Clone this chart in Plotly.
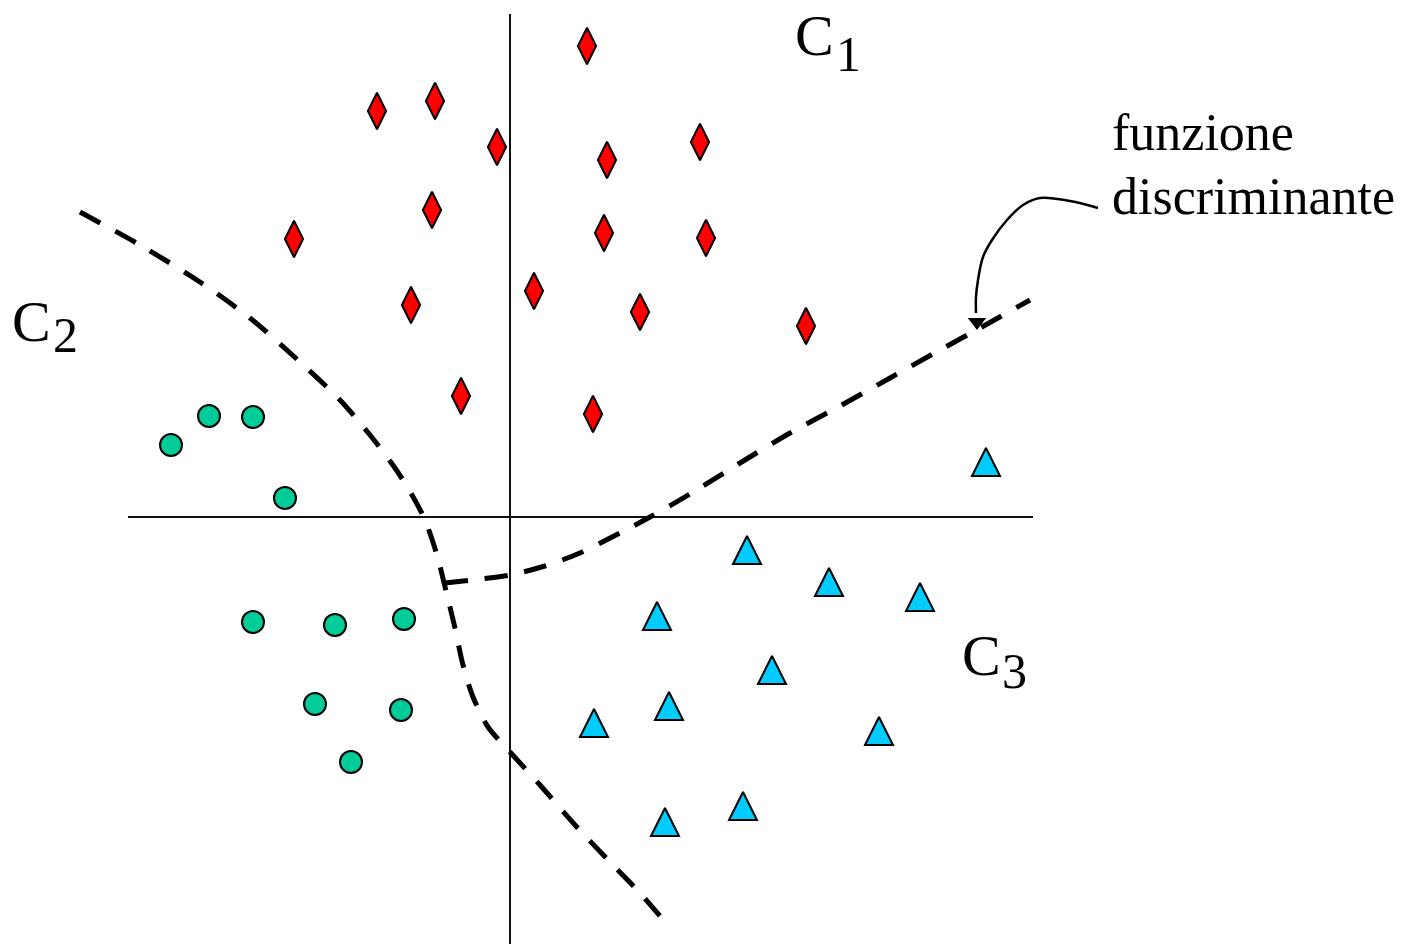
import plotly.graph_objects as go

# Class C1: red diamonds
C1_X = [77, -133, -75, -13, 190, 97, -78, -216, 94, 196, 24, -99, 130, 296, -49, 83]
C1_Y = [471, 406, 416, 370, 375, 357, 307, 278, 284, 279, 226, 212, 205, 191, 121, 103]

# Class C2: green ellipses
C2_X = [-339, -301, -257, -225, -257, -175, -106, -195, -109, -159]
C2_Y = [72, 101, 100, 19, -105, -108, -102, -187, -193, -245]

# Class C3: cyan triangles (centre of each triangle)
C3_X = [476, 237, 319, 410, 147, 262, 159, 84, 369, 155, 233]
C3_Y = [55, -33, -65, -80, -99, -153, -189, -206, -214, -305, -289]

# Discriminant boundaries (dashed)
B12_X = [-430, -370, -310, -260, -210, -170, -140, -115, -98, -85, -73, -63, -55, -47,
         -37, -22, 0, 30, 65, 100, 130, 155]
B12_Y = [305, 272, 235, 199, 155, 117, 82, 49, 22, -3, -38, -78, -111, -148,
         -180, -210, -235, -268, -308, -345, -376, -405]
B13_X = [-65, -30, 0, 35, 70, 110, 140, 180, 230, 280, 330, 380, 430, 470, 520]
B13_Y = [-66, -62, -58, -49, -36, -16, 0, 23, 54, 84, 111, 139, 167, 189, 217]

# Curved pointer from the label to the boundary
ARROW_X = [588, 560, 530, 513, 497, 482, 473, 468, 466, 466]
ARROW_Y = [309, 316, 319, 312, 297, 277, 260, 237, 220, 204]

# Coordinate axes
HAXIS_X = [-382, 523]
VAXIS_Y = [503, -427]

FONT = "Liberation Serif"

fig = go.Figure()

# axes
fig.add_trace(go.Scatter(x=HAXIS_X, y=[0, 0], mode="lines",
                         line=dict(color="#111111", width=2)))
fig.add_trace(go.Scatter(x=[0, 0], y=VAXIS_Y, mode="lines",
                         line=dict(color="#111111", width=2)))

# boundaries
for bx, by in [(B12_X, B12_Y), (B13_X, B13_Y)]:
    fig.add_trace(go.Scatter(x=bx, y=by, mode="lines",
                             line=dict(color="black", width=5, dash="23px,17px",
                                       shape="spline", smoothing=0.8)))

# pointer
fig.add_trace(go.Scatter(x=ARROW_X, y=ARROW_Y, mode="lines",
                         line=dict(color="black", width=2.5, shape="spline")))
fig.add_trace(go.Scatter(x=[ARROW_X[-1] + 1], y=[ARROW_Y[-1] - 9], mode="markers",
                         marker=dict(symbol="triangle-down", size=16, color="black")))

# classes
fig.add_trace(go.Scatter(x=C1_X, y=C1_Y, mode="markers",
                         marker=dict(symbol="diamond-tall", size=26, color="#ff0000",
                                     line=dict(color="black", width=2))))
fig.add_trace(go.Scatter(x=C2_X, y=C2_Y, mode="markers",
                         marker=dict(symbol="circle", size=22, color="#00cc99",
                                     line=dict(color="black", width=2))))
# arrow-up has its apex on the data point, so lift it by half its height
fig.add_trace(go.Scatter(x=C3_X, y=[y + 14 for y in C3_Y], mode="markers",
                         marker=dict(symbol="arrow-up", size=28, color="#00ccff",
                                     line=dict(color="black", width=2))))

# labels
labels = [
    ("C", 304, 482, 58), ("1", 338, 463, 50),
    ("C", -479, 196, 58), ("2", -445, 182, 50),
    ("C", 471, -138, 58), ("3", 504, -154, 50),
]
for txt, lx, ly, fs in labels:
    fig.add_annotation(x=lx, y=ly, text=txt, showarrow=False,
                       xanchor="center", yanchor="middle",
                       font=dict(family=FONT, size=fs, color="black"))

fig.add_annotation(x=600, y=385, text="funzione", showarrow=False,
                   xanchor="left", yanchor="middle",
                   font=dict(family=FONT, size=52, color="black"))
fig.add_annotation(x=600, y=321, text="discriminante", showarrow=False,
                   xanchor="left", yanchor="middle",
                   font=dict(family=FONT, size=52, color="black"))

fig.update_xaxes(range=[-510, 900], visible=False)
fig.update_yaxes(range=[-427, 517], visible=False)
fig.update_layout(
    width=1410, height=944,
    margin=dict(l=0, r=0, t=0, b=0),
    showlegend=False,
    plot_bgcolor="white", paper_bgcolor="white",
    hovermode=False,
)

fig.write_html("out.html", config={"displayModeBar": False},
               post_script="document.body.style.margin='0';")
